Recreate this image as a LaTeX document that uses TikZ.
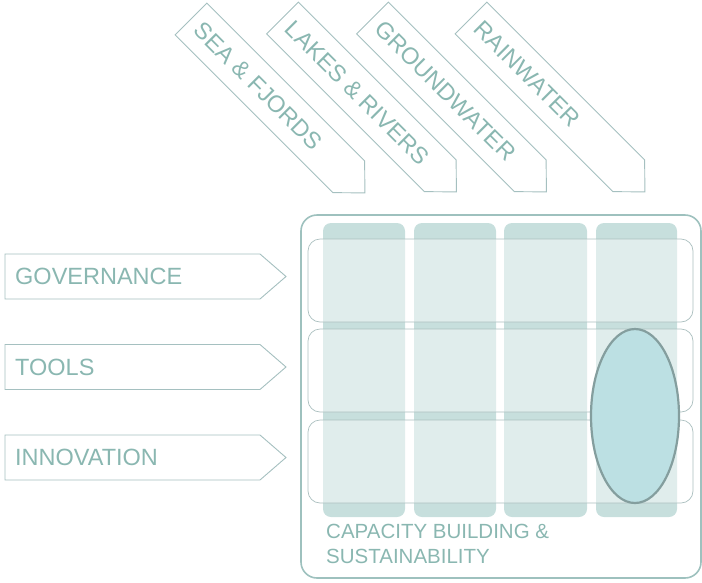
\documentclass[tikz,border=0pt]{standalone}
\usepackage{fontspec}
\setmainfont{Liberation Sans}
\definecolor{txt}{RGB}{138,183,177}
\definecolor{arrline}{RGB}{165,192,192}
\definecolor{colfill}{RGB}{199,223,221}
\definecolor{boxline}{RGB}{158,193,190}
\definecolor{rowline}{RGB}{172,192,192}
\definecolor{ellfill}{RGB}{188,224,227}
\definecolor{ellline}{RGB}{132,158,158}
\begin{document}
\begin{tikzpicture}[x=1pt,y=-1pt,
  arrowbox/.style={draw=arrline, line width=0.9pt, fill=white, line join=miter},
  lbl/.style={text=txt, inner sep=0pt, font=\fontsize{23.5}{28}\selectfont},
  caplbl/.style={text=txt, inner sep=0pt, align=left, font=\fontsize{20.5}{24.5}\selectfont},
  colbox/.style={fill=colfill, rounded corners=8pt},
  rowbox/.style={draw=rowline, line width=0.7pt, fill=white, fill opacity=0.45, rounded corners=12pt},
]
\useasboundingbox (0,0) rectangle (702,582);

% outer frame
\draw[boxline, line width=1.6pt, rounded corners=16pt] (301,215) rectangle (701,578);

% columns
\fill[colbox] (323,223) rectangle (405,517);
\fill[colbox] (414,223) rectangle (496,517);
\fill[colbox] (504,223) rectangle (587,517);
\fill[colbox] (596,223) rectangle (677,517);

% rows
\draw[rowbox] (308,239) rectangle (693,322);
\draw[rowbox] (308,329) rectangle (693,412);
\draw[rowbox] (308,420) rectangle (693,503);

% highlight ellipse
\draw[ellline, line width=2.2pt, fill=ellfill] (635,416) ellipse [x radius=44, y radius=87];

% caption
\node[caplbl, anchor=north west] (cap) at (326,524) {CAPACITY BUILDING \&\\SUSTAINABILITY};

% left arrows
\draw[arrowbox] (5,254) -- (260,254) -- (286,276.5) -- (260,299) -- (5,299) -- cycle;
\node[lbl, anchor=west] (gov) at (15,276.5) {GOVERNANCE};
\draw[arrowbox] (5,344.5) -- (260,344.5) -- (286,367) -- (260,389.5) -- (5,389.5) -- cycle;
\node[lbl, anchor=west] (tools) at (15,367) {TOOLS};
\draw[arrowbox] (5,435) -- (260,435) -- (286,457.5) -- (260,480) -- (5,480) -- cycle;
\node[lbl, anchor=west] (innov) at (15,457.5) {INNOVATION};

% top arrows
\begin{scope}[shift={(191,19)}, rotate=-45]
  \draw[arrowbox] (0,-22.5) -- (223,-22.5) -- (246,0) -- (223,22.5) -- (0,22.5) -- cycle;
  \node[lbl, anchor=west, rotate=-45] (sea) at (10,0) {SEA \& FJORDS};
\end{scope}
\begin{scope}[shift={(282.5,18)}, rotate=-45]
  \draw[arrowbox] (0,-22.5) -- (223,-22.5) -- (246,0) -- (223,22.5) -- (0,22.5) -- cycle;
  \node[lbl, anchor=west, rotate=-45] (lakes) at (10,0) {LAKES \& RIVERS};
\end{scope}
\begin{scope}[shift={(372.5,18)}, rotate=-45]
  \draw[arrowbox] (0,-22.5) -- (223,-22.5) -- (246,0) -- (223,22.5) -- (0,22.5) -- cycle;
  \node[lbl, anchor=west, rotate=-45] (ground) at (10,0) {GROUNDWATER};
\end{scope}
\begin{scope}[shift={(471,18)}, rotate=-45]
  \draw[arrowbox] (0,-22.5) -- (223,-22.5) -- (246,0) -- (223,22.5) -- (0,22.5) -- cycle;
  \node[lbl, anchor=west, rotate=-45] (rain) at (10,0) {RAINWATER};
\end{scope}
\end{tikzpicture}
\end{document}
